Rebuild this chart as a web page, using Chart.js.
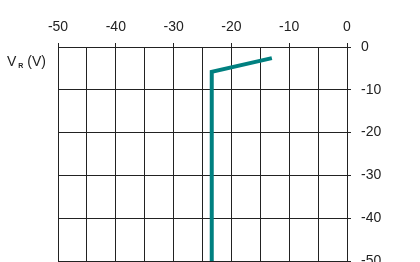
<!DOCTYPE html>
<html>
<head>
<meta charset="utf-8">
<script src="https://cdn.jsdelivr.net/npm/chart.js@4/dist/chart.umd.min.js"></script>
<style>
html,body{margin:0;padding:0;background:#fff;}
#wrap{width:420px;height:262px;position:relative;}
</style>
</head>
<body>
<div id="wrap"><canvas id="c" width="420" height="262"></canvas></div>
<script>
// Data
const curveX = [-13.0, -23.4, -23.4];
const curveY = [-2.6, -5.8, -52];
const xTicks = [-50, -40, -30, -20, -10, 0];
const yTicks = [0, -10, -20, -30, -40, -50];
const yTitleMain = 'V';
const yTitleSub = 'R';
const yTitleUnit = ' (V)';

const points = curveX.map((x, i) => ({x: x, y: curveY[i]}));
const FONT = "'Liberation Sans', Arial, sans-serif";
Chart.defaults.font.family = FONT;
Chart.defaults.font.size = 14;
Chart.defaults.color = '#222';

const titlePlugin = {
  id: 'ytitle',
  afterDraw(chart) {
    const ctx = chart.ctx;
    ctx.save();
    ctx.fillStyle = '#222';
    ctx.textBaseline = 'alphabetic';
    ctx.textAlign = 'left';
    ctx.font = "14px " + FONT;
    ctx.fillText(yTitleMain, 7, 66);
    const w = ctx.measureText(yTitleMain).width;
    ctx.font = "bold 7px " + FONT;
    ctx.fillText(yTitleSub, 7 + w + 2, 68);
    const w2 = ctx.measureText(yTitleSub).width;
    ctx.font = "14px " + FONT;
    ctx.fillText(yTitleUnit, 7 + w + 2 + w2, 66);
    ctx.restore();
  }
};

new Chart(document.getElementById('c'), {
  type: 'line',
  data: {
    datasets: [{
      data: points,
      borderColor: '#008080',
      borderWidth: 4,
      pointRadius: 0,
      fill: false,
      tension: 0,
      borderJoinStyle: 'miter'
    }]
  },
  options: {
    responsive: false,
    animation: false,
    events: [],
    layout: { padding: { left: 58, top: 0, right: 0, bottom: 1 } },
    plugins: { legend: { display: false }, tooltip: { enabled: false } },
    scales: {
      x: {
        type: 'linear',
        position: 'top',
        min: -50, max: 0,
        afterFit(s) { s.height = 47; s.paddingLeft = 0; s.paddingRight = 0; },
        afterBuildTicks(s) {
          const t = [];
          for (let v = -50; v <= 0; v += 5) t.push({value: v});
          s.ticks = t;
        },
        ticks: {
          autoSkip: false,
          maxRotation: 0,
          padding: 7,
          color: '#222',
          callback: (v) => xTicks.includes(v) ? String(v) : ''
        },
        grid: {
          color: '#222',
          lineWidth: 1,
          tickLength: 4,
          tickColor: (ctx) => (ctx.tick && xTicks.includes(ctx.tick.value)) ? '#222' : 'rgba(0,0,0,0)'
        },
        border: { color: '#222', width: 1 }
      },
      y: {
        type: 'linear',
        position: 'right',
        min: -50, max: 0,
        afterFit(s) { s.width = 73; s.paddingTop = 0; s.paddingBottom = 0; },
        afterBuildTicks(s) { s.ticks = yTicks.map(v => ({value: v})); },
        ticks: {
          autoSkip: false,
          padding: 10,
          color: '#222',
          callback: (v) => String(v)
        },
        grid: { color: '#222', lineWidth: 1, tickLength: 4, tickColor: '#222' },
        border: { color: '#222', width: 1 }
      }
    }
  },
  plugins: [titlePlugin]
});
</script>
</body>
</html>
